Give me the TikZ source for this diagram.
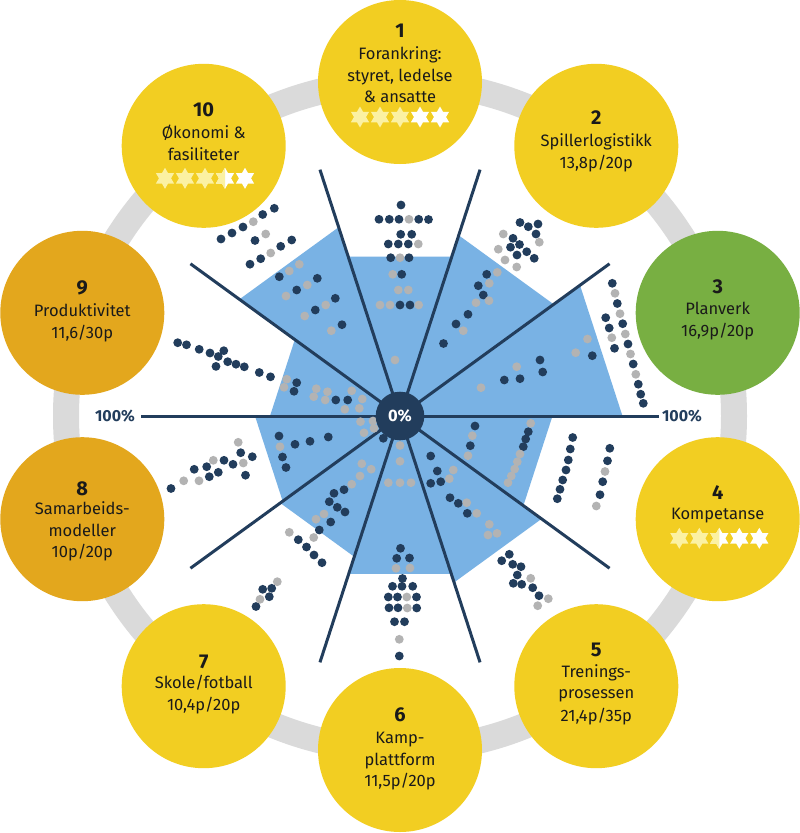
\documentclass[tikz,border=0pt]{standalone}
\usepackage{fontspec}
\setmainfont{Fira Sans}
\definecolor{navy}{HTML}{223D5C}
\definecolor{polyblue}{HTML}{79B2E4}
\definecolor{dotgrey}{HTML}{B3B3B3}
\definecolor{ringgrey}{HTML}{DADADA}
\definecolor{cyel}{HTML}{F2CE22}
\definecolor{corange}{HTML}{E3A71D}
\definecolor{cgreen}{HTML}{78AF42}
\definecolor{staryel}{HTML}{FBF1A3}
\definecolor{txt}{HTML}{1A1A1A}
\begin{document}
\begin{tikzpicture}[x=1pt,y=-1pt,
  bigc/.style={circle,minimum size=164pt,inner sep=0pt,draw=none},
  spoke/.style={draw=navy,line width=3pt},
  lbl/.style={font=\fontsize{16.5}{20}\selectfont,anchor=base,inner sep=0pt,text=txt},
  num/.style={font=\bfseries\fontsize{20}{22}\selectfont,anchor=base,inner sep=0pt,text=txt},
  pct/.style={font=\bfseries\fontsize{16}{18}\selectfont,anchor=base,inner sep=0pt,text=navy},
  hexstar/.pic={\path[pic actions] (90:10.5)--(120:6.06)--(150:10.5)--(180:6.06)--(210:10.5)--(240:6.06)--(270:10.5)--(300:6.06)--(330:10.5)--(0:6.06)--(30:10.5)--(60:6.06)--cycle;}
]
\useasboundingbox (0,0) rectangle (800,833);
\clip (0,0) rectangle (800,833);
\fill[white] (0,0) rectangle (800,833);

% ring
\draw[ringgrey,line width=26pt] (400,416) circle[radius=334pt];

% category circles
\node[bigc,fill=cyel]    (c1)  at (400,82) {};
\node[bigc,fill=cyel]    (c2)  at (596.3,145.8) {};
\node[bigc,fill=cgreen]  (c3)  at (717.7,312.8) {};
\node[bigc,fill=cyel]    (c4)  at (717.7,519.2) {};
\node[bigc,fill=cyel]    (c5)  at (596.3,686.2) {};
\node[bigc,fill=cyel]    (c6)  at (400,750) {};
\node[bigc,fill=cyel]    (c7)  at (203.7,686.2) {};
\node[bigc,fill=corange] (c8)  at (82.3,519.2) {};
\node[bigc,fill=corange] (c9)  at (82.3,312.8) {};
\node[bigc,fill=cyel]    (c10) at (203.7,145.8) {};

% score polygon
\begin{scope}[shift={(400,416)},yscale=-1]
\fill[polyblue] (108:167.5)--(72:167.5)--(72:190)--(36:190)--(36:222.5)--(0:222.5)--(0:152.5)--(-36:152.5)--(-36:175)--(-72:175)--(-72:166)--(-108:166)--(-108:148)--(-144:148)--(-144:145)--(180:145)--(180:130)--(144:130)--(144:198.5)--(108:198.5)--cycle;
\end{scope}

% spokes
\coordinate (ctr) at (400,416);
\foreach \a [count=\i] in {0,36,...,324}
  \coordinate (e\i) at ({400+259*cos(\a)},{416-259*sin(\a)});
\foreach \i in {1,...,10} \draw[spoke] (ctr) -- (e\i);

% dark dots
\foreach \x/\y in {
274.3/208.3,262.7/214.5,243/227,232/233,221/239,255/240.5,291.7/240,280.7/246.3,260.7/258.7,250/264.2,
279.3/276.7,317.3/278.3,296.7/290,335.3/298.3,315.3/310,342/324.7,
401/205,379/219.3,389.3/219.3,399/219.3,418.7/219.3,428.5/219.5,400.7/234.3,411.7/234.3,388.3/244,398.3/244,408.3/244,390.7/257.7,409/257.7,401.7/274.3,400/305,410/305,
520/222.5,528.3/226.7,538/224,513/238.3,536/234,519.5/244.5,510.5/247.2,526.7/251.7,517/255,534.2/258.3,486.7/274.3,478.3/285.7,483.3/295,468/314.3,456/324,443.5/343.5,
592.3/355.7,540/360,542.7/372,520/378.7,504.3/380,
612.3/283.3,617.3/303.5,605.7/317.7,622.7/323.7,609.2/328,628/344,614.5/348.3,633.2/364,638.3/384.2,640.7/394.2,643.3/403.3,
475/426,470.3/445.7,528.3/431.7,525.7/439,523.3/446.7,
572.7/437.5,570.3/449,568.3/460,566/470,562.7/480,560/489.3,557.3/498.7,609.8/448.3,607.5/460.8,602.7/481.7,600/494.7,
430.7/456,437.3/471,430.7/483.3,440.7/481.7,450/497.7,458.3/503.3,467.3/513.3,
501.7/560.7,509.3/554.3,512.7/564.3,521/566.7,517.3/575,513.3/583.3,521.7/584.3,532.7/587.7,539/595.7,
400.5/548.3,396.7/558.3,409.5/558,
402.5/578.5,392.5/586.3,402/586.3,412.7/586.3,388.3/597,397.5/597,416.5/597,389/607.8,398/607.8,416.7/608,394.5/621.7,404.5/621.7,399.3/656,
344/489.7,334/493.3,329.3/501.7,337.3/507.3,345/512,330.7/522,319.3/530,
298.3/539.7,306.5/547,314/555,322/562.7,271.7/588.3,262.7/589.3,269.3/596.7,256/606.5,
279/436,282.5/457,286/467.5,295/444.3,310/441.3,328.3/437,383.3/438.3,
240.7/452.7,252.3/456.7,233/464.3,224/460.3,206.7/466.7,218.3/472.3,209.3/476.7,194.2/469.3,245.5/475.2,171/488.5,
177.7/342.7,186.5/344.8,199.2/349.3,210/353,223.8/350.7,218.3/356.5,216/366.4,227.7/361.7,236/364.2,244.3/366.8,259.3/372.5,270.5/376.8,
296.7/382.7,294/391.3,335.8/400,347.7/400}
  \fill[navy] (\x,\y) circle[radius=4.4pt];

% grey dots
\foreach \x/\y in {
253.3/221.7,265.7/234,270.7/253,
299.3/264.3,289.3/271,307.3/285,286/296,325.7/305,304.7/316,331.3/330.7,
409/219.3,418.3/244,400/257.7,392.7/274.3,398.3/290,408.3/290,380/305,390/305,418.7/305,395/360,
503.3/234,539.3/242.2,498.3/249.2,505/260,516.7/267,497.3/272.3,489.3/283.3,476/302.7,489/300.7,463.3/330.7,
587.5/339,575.7/352.7,516.7/366.7,481/387.7,
615/293.3,620/313.7,625.3/334,611.8/337.7,630.5/354,635.8/374.3,
472.3/435.7,468/455.7,530.7/423.3,520/454,517.3/461.7,514.7/469,511.3/476,508/482.7,
605/471.5,596.3/506,
453.3/470,449.3/478.7,466.7/502.7,476.7/513.3,489.3/524.3,488/535,497/533.3,
530.7/578.3,548.3/598.7,537.7/605.7,
400/445.5,400/461.3,388.3/482.7,400/482.7,411/482.7,396/568.3,410/568,
406.8/597,407.3/608,399.3/639.3,
361.8/463.7,371.2/469.2,360/476,351.7/484.2,324/514,316/519.2,
289.3/532.3,313.7/537.5,277.3/581.7,260/599.3,
280/446.7,360.5/421.7,373/421,364/432.8,374/428.3,
238.2/442.3,243.3/463,213.3/460.3,199/480.8,183.7/480.8,
286.7/379.2,284/387.3,316.3/388.7,327.5/391.7,313.7/396.7,325.2/400,351.7/390.8,362.3/399,344.8/409.3,359.3/408.3}
  \fill[dotgrey] (\x,\y) circle[radius=4.4pt];

% centre
\node[circle,fill=navy,minimum size=48.6pt,inner sep=0pt] (zero) at (ctr) {};
\node[font=\bfseries\fontsize{16.5}{18}\selectfont,text=white,anchor=base,inner sep=0pt] (zerot) at (400,421) {0\%};
\node[pct] (pl) at (115,421) {100\%};
\node[pct] (pr) at (682,421) {100\%};

% circle texts
\node[num] (n1) at (400,37) {1};
\node[lbl] (t1a) at (400,59) {Forankring:};
\node[lbl] (t1b) at (400,81) {styret, ledelse};
\node[lbl] (t1c) at (400,102.5) {\& ansatte};

\node[num] (n2) at (596.3,124) {2};
\node[lbl] (t2a) at (596.3,146.5) {Spillerlogistikk};
\node[lbl] (t2b) at (596.3,168) {13,8p/20p};

\node[num] (n3) at (717.7,293.5) {3};
\node[lbl] (t3a) at (717.7,314.7) {Planverk};
\node[lbl] (t3b) at (717.7,336) {16,9p/20p};

\node[num] (n4) at (717.7,499.3) {4};
\node[lbl] (t4a) at (717.7,519.7) {Kompetanse};

\node[num] (n5) at (596.3,656.7) {5};
\node[lbl] (t5a) at (596.3,677.4) {Trenings-};
\node[lbl] (t5b) at (596.3,698.9) {prosessen};
\node[lbl] (t5c) at (596.3,721) {21,4p/35p};

\node[num] (n6) at (400,721.7) {6};
\node[lbl] (t6a) at (400,743) {Kamp-};
\node[lbl] (t6b) at (400,765) {plattform};
\node[lbl] (t6c) at (400,786.4) {11,5p/20p};

\node[num] (n7) at (203.7,668.7) {7};
\node[lbl] (t7a) at (203.7,688.8) {Skole/fotball};
\node[lbl] (t7b) at (203.7,710.5) {10,4p/20p};

\node[num] (n8) at (82.3,495) {8};
\node[lbl] (t8a) at (82.3,514.7) {Samarbeids-};
\node[lbl] (t8b) at (82.3,536.2) {modeller};
\node[lbl] (t8c) at (82.3,557.7) {10p/20p};

\node[num] (n9) at (82.3,294.3) {9};
\node[lbl] (t9a) at (82.3,316.4) {Produktivitet};
\node[lbl] (t9b) at (82.3,338.7) {11,6/30p};

\node[num] (n10) at (203.7,116.7) {10};
\node[lbl] (t10a) at (203.7,138.7) {Økonomi \&};
\node[lbl] (t10b) at (203.7,160) {fasiliteter};

% star ratings
% circle 1: 3 of 5
\foreach \x in {360,380,400} \pic[fill=staryel] at (\x,117) {hexstar};
\foreach \x in {420,440} \pic[fill=white] at (\x,117) {hexstar};
% circle 10: 3.5 of 5
\foreach \x in {165,185,205} \pic[fill=staryel] at (\x,178.3) {hexstar};
\foreach \x in {225,245} \pic[fill=white] at (\x,178.3) {hexstar};
\begin{scope}
\clip (213,165) rectangle (225,192);
\pic[fill=staryel] at (225,178.3) {hexstar};
\end{scope}
% circle 4: 2.5 of 5
\foreach \x in {679.3,699.3} \pic[fill=staryel] at (\x,538.3) {hexstar};
\foreach \x in {719.3,739.3,759.3} \pic[fill=white] at (\x,538.3) {hexstar};
\begin{scope}
\clip (707,525) rectangle (719.3,552);
\pic[fill=staryel] at (719.3,538.3) {hexstar};
\end{scope}
\end{tikzpicture}
\end{document}
